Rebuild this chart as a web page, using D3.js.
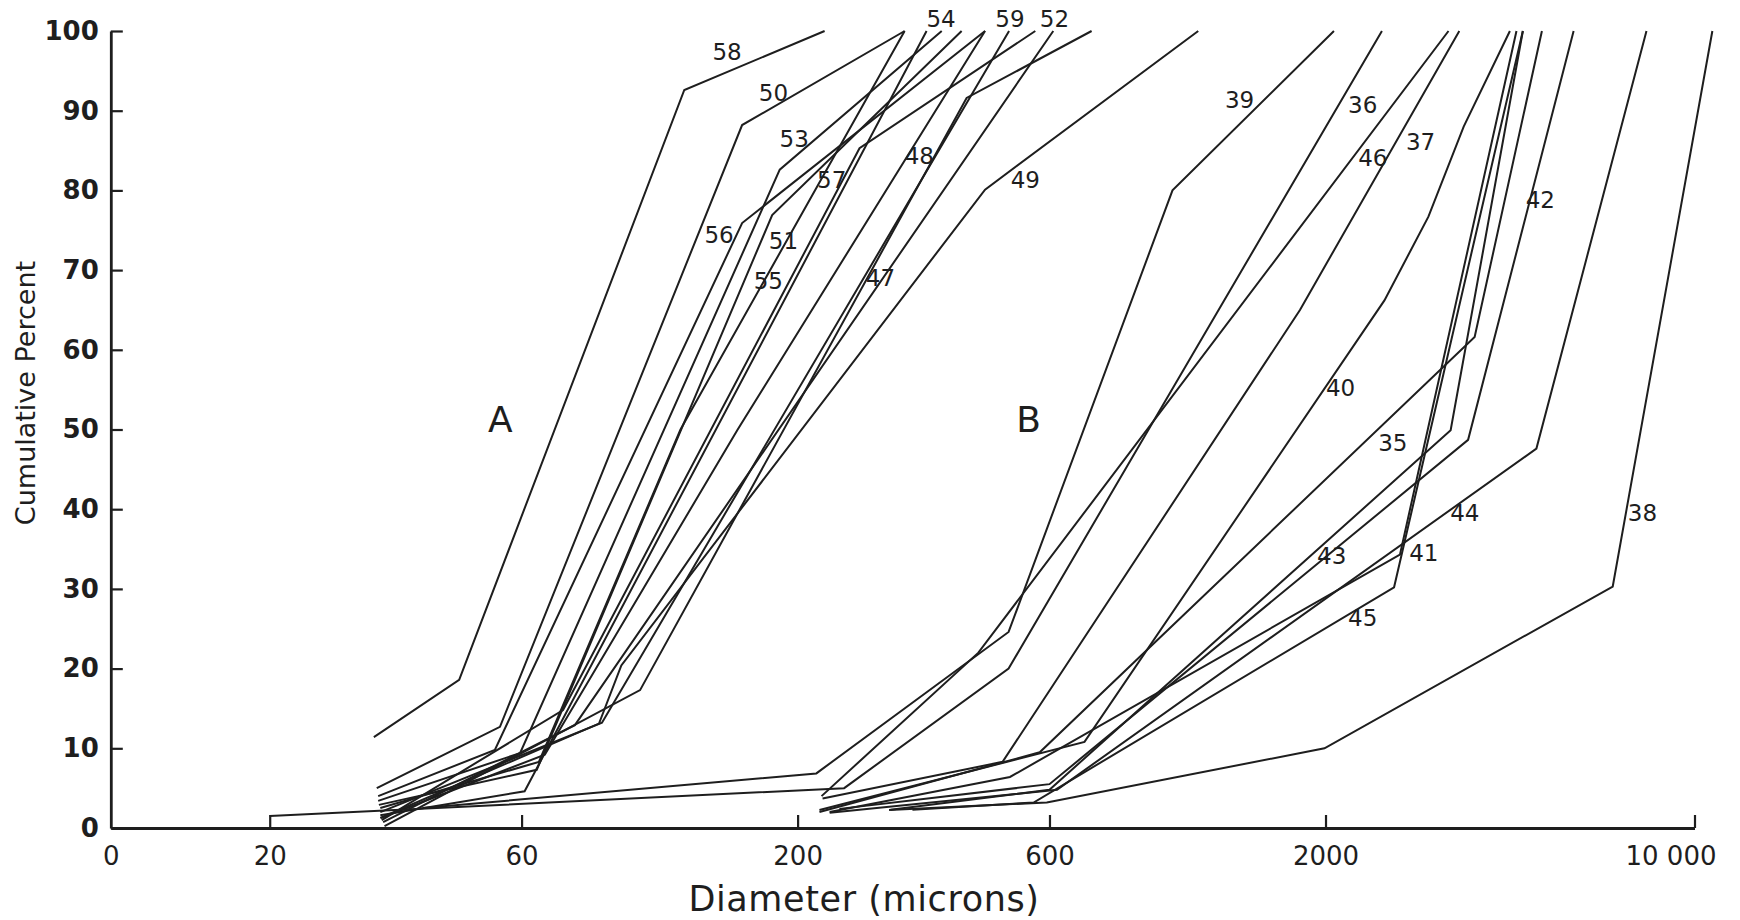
<!DOCTYPE html>
<html><head><meta charset="utf-8">
<script src="https://cdn.jsdelivr.net/npm/d3@7"></script>
<style>html,body{margin:0;padding:0;background:#fff;} svg{display:block;}</style>
</head><body><svg id="chart" width="1740" height="920"></svg>
<script>
// ---- data: [diameter (microns), cumulative percent] ----
const s58 = [[31.5,11.4],[45.7,18.6],[122,92.6],[225,100]];
const s50 = [[31.9,5.0],[54.6,12.7],[157,88.2],[319,100]];
const s56 = [[32.1,4.0],[53.4,9.8],[157,75.9],[453,100]];
const s53 = [[32.1,3.4],[59.6,9.4],[185,82.6],[375,100]];
const s51 = [[32.2,2.9],[64.1,7.3],[179,76.9],[409,100]];
const s55 = [[32.4,2.5],[64.7,8.3],[120,50],[319,100]];
const s54 = [[32.4,1.6],[60.8,4.6],[351,100]];
const s57 = [[32.6,1.0],[71.9,14.8],[262,85.3],[564,100]];
const s59 = [[32.4,2.0],[85.2,13.2],[503,100]];
const s48 = [[32.5,1.25],[66.4,9.2],[154,50],[453,100]];
const s52 = [[32.8,0.75],[75.7,12.9],[610,100]];
const s47 = [[33.0,0.25],[100.6,17.3],[418,91.6],[721,100]];
const s49 = [[32.4,1.25],[84.1,13.1],[92.7,20.4],[453,80.1],[1148,100]];

const s39 = [[39,2.5],[217,6.85],[502,24.6],[1026,80],[2075,100]];
const s36 = [[20,1.5],[245,5.0],[502,20],[2558,100]];
const s46 = [[222,4.0],[440,22],[3420,100]];
const s37 = [[223,3.7],[489,8.3],[1789,65],[3585,100]];
const s40 = [[220,2.26],[699,10.8],[2586,66.2],[3133,76.7],[3654,88],[4470,100]];
const s35 = [[220,2.0],[575,9.5],[3833,61.6],[5140,100]];
const s43 = [[300,2.3],[600,4.8],[3452,49.9],[4730,100]];
const s44 = [[230,1.9],[620,4.8],[5018,47.6],[8110,100]];
const s41 = [[230,2.0],[505,6.4],[2767,34.3],[4600,100]];
const s45 = [[330,2.3],[560,3.2],[2697,30.2],[4730,100]];
const s42 = [[240,2.4],[600,5.5],[3725,48.7],[5902,100]];
const s38 = [[298,2.26],[593,3.2],[1991,10.0],[7000,30.3],[10810,100]];

const sampleIds = ["58","50","56","53","51","55","54","57","59","48","52","47","49",
                   "39","36","46","37","40","35","43","44","41","45","42","38"];
const sampleValues = [s58,s50,s56,s53,s51,s55,s54,s57,s59,s48,s52,s47,s49,
                      s39,s36,s46,s37,s40,s35,s43,s44,s41,s45,s42,s38];

// label anchors [diameter, percent]
const labelIds = ["58","50","53","56","51","55","57","48","47","49","54","59","52",
                  "39","36","46","37","42","40","35","43","44","41","45","38"];
const labelAt = [[147,97.4],[180,92.3],[197,86.5],[142,74.4],[188,73.7],[176,68.7],[232,81.3],[340,84.4],[287,69.1],[540,81.3],[374,101.5],[505,101.5],[613,101.5],
                 [1375,91.4],[2352,90.7],[2458,84.1],[3027,86.1],[5105,78.8],[2136,55.2],[2682,48.4],[2055,34.2],[3673,39.5],[3071,34.6],[2352,26.4],[7969,39.5]];
const groupIds = ["A","B"];
const groupAt = [[54.7,51.3],[548,51.3]];

const xTickValues = [10,20,60,200,600,2000,10000];
const xTickLabels = ["0","20","60","200","600","2000","10 000"];
const yTickValues = [0,10,20,30,40,50,60,70,80,90,100];

// ---- drawing ----
const svg = d3.select("#chart");
const x = d3.scaleLog().domain([10,10000]).range([110.8,1694.5]);
const y = d3.scaleLinear().domain([0,100]).range([828,31]);
const ink = "#1e1e1e";
const font = "DejaVu Sans, sans-serif";

const line = d3.line().x(d=>x(d[0])).y(d=>y(d[1]));
svg.append("g").selectAll("path").data(sampleValues).join("path")
  .attr("d", line).attr("fill","none").attr("stroke",ink)
  .attr("stroke-width",2).attr("stroke-linejoin","miter");

// x axis
const xAxis = d3.axisBottom(x).tickValues(xTickValues)
  .tickFormat((d,i)=>xTickLabels[i]).tickSize(-13).tickSizeOuter(0).tickPadding(19);
const gx = svg.append("g").attr("transform","translate(0,828)").call(xAxis);
gx.select(".domain").attr("stroke",ink).attr("stroke-width",2.8);
gx.selectAll(".tick line").attr("stroke",ink).attr("stroke-width",2.2)
  .filter(d=>d===10).remove();
gx.selectAll(".tick text").attr("fill",ink).attr("font-family",font)
  .attr("font-size",26).attr("dx",d=>d===10000?-24:0);

// y axis
const yAxis = d3.axisLeft(y).tickValues(yTickValues).tickSize(-12).tickSizeOuter(0).tickPadding(12);
const gy = svg.append("g").attr("transform","translate(110.8,0)").call(yAxis);
gy.select(".domain").attr("stroke",ink).attr("stroke-width",2.8);
gy.selectAll(".tick line").attr("stroke",ink).attr("stroke-width",2.2);
gy.selectAll(".tick text").attr("fill",ink).attr("font-family",font)
  .attr("font-size",26).attr("font-weight","bold");

// titles
svg.append("text").attr("x",864).attr("y",911).attr("text-anchor","middle")
  .attr("font-family",font).attr("font-size",35).attr("letter-spacing",0.6).attr("fill",ink)
  .text("Diameter (microns)");
svg.append("text").attr("transform","translate(35,393) rotate(-90)").attr("text-anchor","middle")
  .attr("font-family",font).attr("font-size",27).attr("fill",ink)
  .text("Cumulative Percent");

// curve labels
svg.append("g").selectAll("text").data(labelIds).join("text")
  .attr("x",(d,i)=>x(labelAt[i][0])).attr("y",(d,i)=>y(labelAt[i][1]))
  .attr("dy","0.36em").attr("text-anchor","middle")
  .attr("font-family",font).attr("font-size",23).attr("fill",ink)
  .text(d=>d);
svg.append("g").selectAll("text").data(groupIds).join("text")
  .attr("x",(d,i)=>x(groupAt[i][0])).attr("y",(d,i)=>y(groupAt[i][1]))
  .attr("dy","0.36em").attr("text-anchor","middle")
  .attr("font-family",font).attr("font-size",36).attr("fill",ink)
  .text(d=>d);
</script></body></html>
